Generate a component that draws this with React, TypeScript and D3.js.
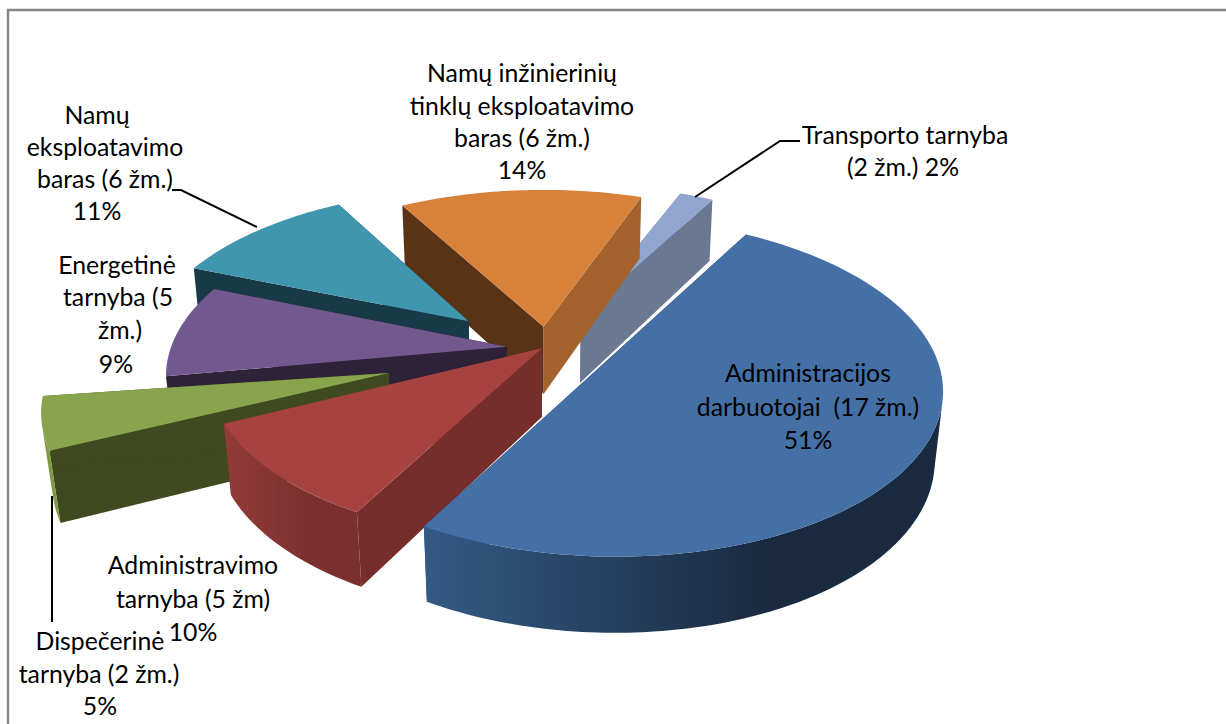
import * as d3 from 'd3';

const WIDTH = 1226;
const HEIGHT = 724;

// Values as printed on the labels
const percents = [51, 10, 5, 9, 11, 14, 2];
const explode = [0.2, 0.03, 0.5, 0.14, 0.3, 0.13, 0.25];

// per-slice corrections so the wedges sit where the source picture has them
const spinDeg = [3, 2, 2.5, 0, 0, 0, 2];
const radiusScale = [1.005, 1.01, 1.02, 1.035, 1, 1.02, 1];
const nudgeX = [-1, -1, -2, 2, -10, -3, -3];
const nudgeY = [-3, -3, 2, 1, 4, -1, 3];

const topColors = ['#4470a6', '#a64341', '#88a44c', '#71588f', '#4096ae', '#d8813b', '#90a6cf'];
const startWall = ['#2a4465', '#762e2c', '#404a21', '#2d2238', '#183a46', '#583316', '#6a7891'];
const endWall = ['#2a4465', '#762e2c', '#404a21', '#2d2238', '#183a46', '#a4632c', '#6a7891'];
const rimFrom = ['#345a85', '#933c3a', '#7f9a44', '#5f4a78', '#367f94', '#b86d32', '#7a8db0'];
const rimTo = ['#1a2b41', '#7a302e', '#7f9a44', '#3d3050', '#24535f', '#8a5226', '#5f6c85'];

const labelLines = [
  ['Administracijos', 'darbuotojai  (17 žm.)', '51%'],
  ['Administravimo', 'tarnyba (5 žm)', '10%'],
  ['Dispečerinė', 'tarnyba (2 žm.)', '5%'],
  ['Energetinė', 'tarnyba (5', 'žm.)', '9%'],
  ['Namų', 'eksploatavimo', 'baras (6 žm.)', '11%'],
  ['Namų inžinierinių', 'tinklų eksploatavimo', 'baras (6 žm.)', '14%'],
  ['Transporto tarnyba', '(2 žm.) 2%'],
];
const labelX = [
  [808, 808, 808],
  [193, 193, 193],
  [100, 99, 100],
  [117, 118, 120, 116],
  [97, 105, 105, 97],
  [522, 522, 522, 522],
  [905, 903],
];
const labelY = [
  [382, 416, 449],
  [574, 608, 641],
  [650, 683, 715],
  [274, 306, 339, 373],
  [124, 156, 188, 220],
  [82, 115, 147, 179],
  [144, 176],
];

const leaders = [
  [[800, 141], [780, 141], [695, 197]],
  [[172, 190], [181, 190], [257, 227]],
  [[52, 496], [52, 622]],
];

// pie camera
const CX = 550;
const CY = 348;
const RADIUS = 325;
const THICK = 80;
const FOCAL = 1900;
const TILT = (29.5 * Math.PI) / 180;
const START = (27 * Math.PI) / 180;

type P3 = [number, number, number];

function project([x, y, z]: P3): [number, number] {
  const up = y * Math.sin(TILT) + z * Math.cos(TILT);
  const depth = y * Math.cos(TILT) - z * Math.sin(TILT);
  const s = FOCAL / (FOCAL + depth);
  return [CX + x * s, CY - up * s];
}

const line = d3.line();

export default function App() {
  const arcs = d3.pie<number>().sort(null).startAngle(START).endAngle(START + 2 * Math.PI)(percents);

  const slices = arcs.map((arc, i) => {
    const spin = (spinDeg[i] * Math.PI) / 180;
    const a0 = arc.startAngle + spin;
    const a1 = arc.endAngle + spin;
    const r = RADIUS * radiusScale[i];
    const mid = (a0 + a1) / 2;
    const ox = explode[i] * RADIUS * Math.sin(mid);
    const oy = explode[i] * RADIUS * Math.cos(mid);
    const at = (a: number, rr: number, z: number): [number, number] => {
      const [px, py] = project([ox + rr * Math.sin(a), oy + rr * Math.cos(a), z]);
      return [px + nudgeX[i], py + nudgeY[i]];
    };
    const n = Math.max(2, Math.ceil((a1 - a0) / 0.02));
    const angles = d3.range(n + 1).map((k) => a0 + ((a1 - a0) * k) / n);

    const rim = angles.map((a) => at(a, r, 0));
    const apex = at(0, 0, 0);
    const apexLow = at(0, 0, -THICK);
    const top = line([apex, ...rim]) + 'Z';

    const wall = (a: number) => line([apex, at(a, r, 0), at(a, r, -THICK), apexLow]) + 'Z';

    // only the part of the rim that faces the camera
    const seen = angles.filter((a) => {
      const px = ox + r * Math.sin(a);
      const py = oy + r * Math.cos(a);
      return -px * Math.sin(a) + (-FOCAL * Math.cos(TILT) - py) * Math.cos(a) > 0;
    });
    const rimWall =
      seen.length > 1
        ? line([
            ...seen.map((a) => at(a, r, 0)),
            ...seen.slice().reverse().map((a) => at(a, r, -THICK)),
          ]) + 'Z'
        : null;

    return { i, top, wallA: wall(a0), wallB: wall(a1), rimWall };
  });

  // back to front
  const order = [6, 5, 4, 3, 2, 1, 0];

  return (
    <svg
      width={WIDTH}
      height={HEIGHT}
      style={{ position: 'absolute', left: 0, top: 0, background: '#fff' }}
      fontFamily="Lato, 'Open Sans', sans-serif"
    >
      <defs>
        {percents.map((_, i) => (
          <linearGradient key={i} id={`rim${i}`} x1="0" x2="1" y1="0" y2="0">
            <stop offset="0%" stopColor={rimFrom[i]} />
            <stop offset="65%" stopColor={rimTo[i]} />
            <stop offset="100%" stopColor={rimTo[i]} />
          </linearGradient>
        ))}
      </defs>

      <path d={`M${WIDTH},10 H8 V${HEIGHT}`} fill="none" stroke="#868686" strokeWidth={2.5} />

      {order.map((i) => {
        const s = slices[i];
        return (
          <g key={i}>
            <path d={s.wallA} fill={startWall[i]} />
            <path d={s.wallB} fill={endWall[i]} />
            {s.rimWall && <path d={s.rimWall} fill={`url(#rim${i})`} />}
            <path d={s.top} fill={topColors[i]} />
          </g>
        );
      })}

      {leaders.map((pts, i) => (
        <path key={i} d={line(pts as [number, number][]) as string} fill="none" stroke="#000" strokeWidth={2} />
      ))}

      {labelLines.map((lines, i) =>
        lines.map((t, k) => (
          <text key={`${i}-${k}`} x={labelX[i][k]} y={labelY[i][k]} textAnchor="middle" fontSize={24.8} fill="#000" xmlSpace="preserve">
            {t}
          </text>
        )),
      )}
    </svg>
  );
}
